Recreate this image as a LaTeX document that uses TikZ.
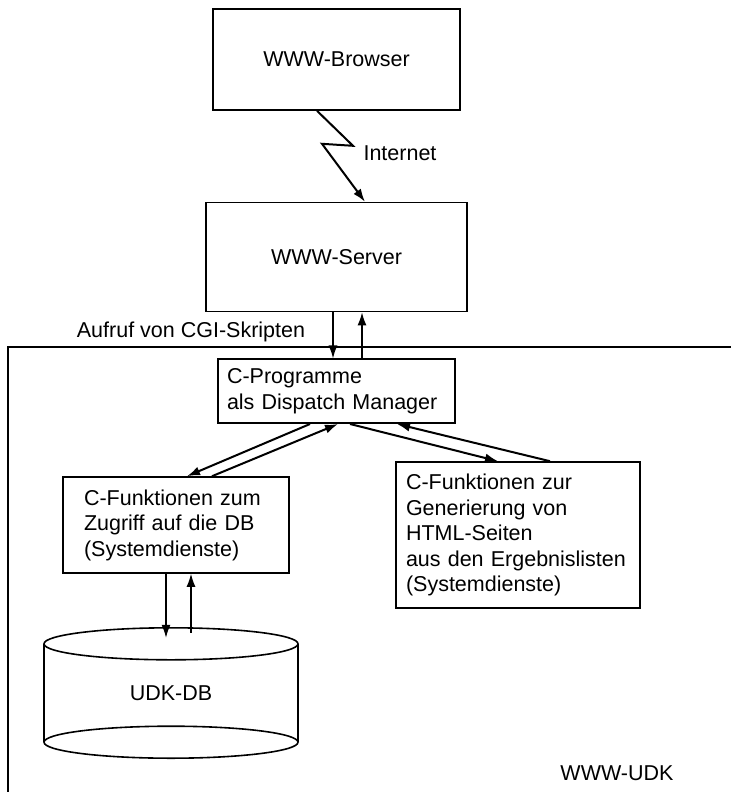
\documentclass[tikz,border=0pt]{standalone}
\usepackage{fontspec}
\setmainfont{Liberation Sans}
\usepackage{tikz}
\usetikzlibrary{arrows.meta,positioning}

\begin{document}
\begin{tikzpicture}[
  x=1pt, y=-1pt,
  font=\fontsize{21.5}{25.5}\selectfont,
  box/.style={draw, line width=1.6pt, align=center},
  txtbox/.style={box, align=left},
  lbl/.style={inner sep=0pt},
  frame/.style={draw, line width=1.2pt},
  arr/.style={-{Latex[length=13pt,width=9pt]}, line width=1.3pt},
  tarr/.style={arr, line width=2pt}
]
\useasboundingbox (0,0) rectangle (731,792);

% client and server
\node[box, minimum width=247pt, minimum height=101pt] (browser) at (336.5,59.5) {WWW-Browser};
\node[box, minimum width=261pt, minimum height=109pt, below=91pt of browser] (server) {WWW-Server};
\node[lbl] (inet) at (400,153) {Internet};
\node[lbl] (aufruf) at (191,332) {Aufruf von CGI-Skripten};

% WWW-UDK frame
\draw[frame] (8,792) |- (731,347);
\node[lbl] (udklbl) at (617,773) {WWW-UDK};

% programs inside the frame
\node[txtbox, text width=219pt, inner xsep=9pt, minimum height=64pt, below=46pt of server] (cprog) {C-Programme\\als Dispatch Manager};
\node[txtbox, text width=184pt, inner xsep=21pt, minimum height=96pt] (dbfun) at (176,525) {C-Funktionen zum\\Zugriff auf die DB\\(Systemdienste)};
\node[txtbox, text width=224pt, inner xsep=10pt, minimum height=146pt] (htmlfun) at (518,535) {C-Funktionen zur\\Generierung von\\HTML-Seiten\\aus den Ergebnislisten\\(Systemdienste)};

% database
\node[inner sep=0pt, minimum width=254pt, minimum height=98pt] (udk) at (171,693) {UDK-DB};
\draw[line width=1.6pt] (udk.north) ellipse [x radius=127pt, y radius=16pt];
\draw[line width=1.6pt] (udk.south) ellipse [x radius=127pt, y radius=16pt];
\draw[line width=1.6pt] (udk.north west) -- (udk.south west);
\draw[line width=1.6pt] (udk.north east) -- (udk.south east);

% Internet link
\draw[tarr] ([xshift=-19.5pt]browser.south) -- ++(36,35) -- ++(-31,-2) -- ([xshift=28.5pt]server.north);

% CGI calls
\draw[arr] ([xshift=-3.5pt]server.south) -- ([xshift=-3.5pt]cprog.north);
\draw[arr] ([xshift=25.5pt]cprog.north) -- ([xshift=25.5pt]server.south);

% dispatch to the functions
\draw[tarr] ([xshift=-26.5pt]cprog.south) -- ([xshift=11pt]dbfun.north);
\draw[tarr] ([xshift=36pt]dbfun.north) -- ([xshift=1.5pt]cprog.south);
\draw[tarr] ([xshift=13.5pt]cprog.south) -- ([xshift=-20pt]htmlfun.north);
\draw[tarr] ([xshift=32pt]htmlfun.north) -- ([xshift=60.5pt]cprog.south);

% database access
\draw[arr] ([xshift=-10pt]dbfun.south) -- ([xshift=-5pt,yshift=6pt]udk.north);
\draw[arr] ([xshift=20pt,yshift=11pt]udk.north) -- ([xshift=15pt]dbfun.south);

\end{tikzpicture}
\end{document}
